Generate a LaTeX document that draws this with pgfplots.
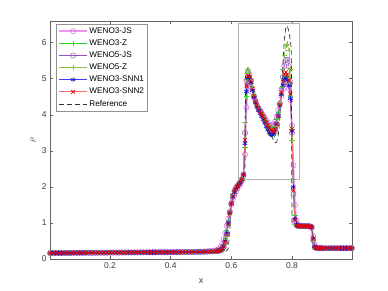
\documentclass[border=0pt]{standalone}
\usepackage{pgfplots}
\pgfplotsset{compat=1.18}
\usepackage{pgfplotstable}
\usepackage{fontspec}
\setmainfont{Liberation Sans}

\definecolor{cAjs}{RGB}{238,150,238}
\definecolor{cAjsm}{RGB}{205,100,230}
\definecolor{cAz}{RGB}{40,215,40}
\definecolor{cBjs}{RGB}{150,80,190}
\definecolor{cBz}{RGB}{130,195,70}
\definecolor{cS1}{RGB}{60,60,255}
\definecolor{cS1m}{RGB}{20,20,210}
\definecolor{cS2}{RGB}{255,110,110}
\definecolor{cS2m}{RGB}{235,0,0}
\definecolor{cRef}{RGB}{50,50,50}
\definecolor{cAx}{RGB}{100,100,100}
\definecolor{cTk}{RGB}{60,60,60}

% columns: x, WENO3-JS, WENO3-Z, WENO5-JS, WENO5-Z, WENO3-SNN1, WENO3-SNN2
\pgfplotstableread{
x a b c d e f
0.0025 0.165 0.165 0.165 0.165 0.165 0.165
0.01 0.166 0.166 0.166 0.166 0.166 0.166
0.02 0.166 0.166 0.166 0.166 0.166 0.166
0.03 0.167 0.167 0.167 0.167 0.167 0.167
0.04 0.167 0.167 0.167 0.167 0.167 0.167
0.05 0.168 0.168 0.168 0.168 0.168 0.168
0.06 0.169 0.169 0.169 0.169 0.169 0.169
0.07 0.169 0.169 0.169 0.169 0.169 0.169
0.08 0.170 0.170 0.170 0.170 0.170 0.170
0.09 0.170 0.170 0.170 0.170 0.170 0.170
0.10 0.171 0.171 0.171 0.171 0.171 0.171
0.11 0.172 0.172 0.172 0.172 0.172 0.172
0.12 0.172 0.172 0.172 0.172 0.172 0.172
0.13 0.173 0.173 0.173 0.173 0.173 0.173
0.14 0.173 0.173 0.173 0.173 0.173 0.173
0.15 0.174 0.174 0.174 0.174 0.174 0.174
0.16 0.175 0.175 0.175 0.175 0.175 0.175
0.17 0.175 0.175 0.175 0.175 0.175 0.175
0.18 0.176 0.176 0.176 0.176 0.176 0.176
0.19 0.176 0.176 0.176 0.176 0.176 0.176
0.20 0.177 0.177 0.177 0.177 0.177 0.177
0.21 0.178 0.178 0.178 0.178 0.178 0.178
0.22 0.178 0.178 0.178 0.178 0.178 0.178
0.23 0.179 0.179 0.179 0.179 0.179 0.179
0.24 0.179 0.179 0.179 0.179 0.179 0.179
0.25 0.180 0.180 0.180 0.180 0.180 0.180
0.26 0.181 0.181 0.181 0.181 0.181 0.181
0.27 0.181 0.181 0.181 0.181 0.181 0.181
0.28 0.182 0.182 0.182 0.182 0.182 0.182
0.29 0.182 0.182 0.182 0.182 0.182 0.182
0.30 0.183 0.183 0.183 0.183 0.183 0.183
0.31 0.184 0.184 0.184 0.184 0.184 0.184
0.32 0.184 0.184 0.184 0.184 0.184 0.184
0.33 0.185 0.185 0.185 0.185 0.185 0.185
0.34 0.185 0.185 0.185 0.185 0.185 0.185
0.35 0.186 0.186 0.186 0.186 0.186 0.186
0.36 0.187 0.187 0.187 0.187 0.187 0.187
0.37 0.187 0.187 0.187 0.187 0.187 0.187
0.38 0.188 0.188 0.188 0.188 0.188 0.188
0.39 0.188 0.188 0.188 0.188 0.188 0.188
0.40 0.189 0.189 0.189 0.189 0.189 0.189
0.41 0.190 0.190 0.190 0.190 0.190 0.190
0.42 0.190 0.190 0.190 0.190 0.190 0.190
0.43 0.191 0.191 0.191 0.191 0.191 0.191
0.44 0.192 0.192 0.192 0.192 0.192 0.192
0.45 0.193 0.193 0.193 0.193 0.193 0.193
0.46 0.194 0.194 0.194 0.194 0.194 0.194
0.47 0.195 0.195 0.195 0.195 0.195 0.195
0.48 0.198 0.196 0.196 0.196 0.196 0.196
0.49 0.201 0.198 0.197 0.197 0.197 0.197
0.50 0.205 0.199 0.198 0.198 0.198 0.198
0.51 0.210 0.202 0.200 0.200 0.200 0.200
0.52 0.216 0.205 0.202 0.202 0.202 0.202
0.53 0.224 0.209 0.205 0.204 0.205 0.205
0.54 0.232 0.214 0.208 0.206 0.209 0.208
0.550 0.242 0.220 0.212 0.209 0.213 0.212
0.555 0.258 0.230 0.218 0.213 0.220 0.218
0.560 0.285 0.248 0.228 0.220 0.232 0.228
0.565 0.335 0.280 0.243 0.230 0.252 0.248
0.570 0.420 0.330 0.270 0.250 0.290 0.280
0.575 0.550 0.420 0.330 0.300 0.360 0.340
0.580 0.720 0.570 0.450 0.400 0.500 0.470
0.585 0.920 0.800 0.680 0.620 0.720 0.680
0.590 1.120 1.050 0.980 0.950 1.000 0.970
0.595 1.320 1.300 1.280 1.270 1.280 1.270
0.600 1.500 1.520 1.550 1.570 1.530 1.540
0.605 1.650 1.700 1.760 1.790 1.720 1.740
0.610 1.770 1.830 1.890 1.920 1.850 1.870
0.615 1.870 1.930 1.970 1.990 1.940 1.950
0.620 1.950 2.000 2.030 2.040 2.010 2.020
0.625 2.020 2.060 2.080 2.090 2.070 2.080
0.630 2.090 2.120 2.140 2.150 2.130 2.140
0.635 2.170 2.190 2.210 2.220 2.200 2.210
0.640 2.300 2.320 2.350 2.380 2.330 2.340
0.645 2.900 3.100 3.500 3.800 3.200 3.300
0.650 4.200 4.500 4.950 5.150 4.650 4.800
0.655 4.780 4.980 5.180 5.260 5.020 5.080
0.660 4.850 5.000 5.100 5.150 5.040 5.060
0.665 4.780 4.880 4.950 4.980 4.900 4.930
0.670 4.620 4.680 4.720 4.750 4.680 4.720
0.675 4.480 4.500 4.520 4.550 4.480 4.520
0.680 4.360 4.360 4.370 4.380 4.330 4.370
0.685 4.260 4.250 4.250 4.260 4.210 4.260
0.690 4.180 4.170 4.160 4.160 4.120 4.170
0.695 4.110 4.100 4.090 4.080 4.040 4.100
0.700 4.050 4.030 4.010 4.000 3.960 4.030
0.705 3.980 3.960 3.930 3.910 3.870 3.950
0.710 3.910 3.880 3.840 3.820 3.770 3.870
0.715 3.840 3.800 3.750 3.720 3.670 3.790
0.720 3.780 3.730 3.660 3.620 3.580 3.710
0.725 3.730 3.670 3.580 3.530 3.500 3.640
0.730 3.700 3.630 3.520 3.460 3.450 3.580
0.735 3.700 3.620 3.490 3.420 3.440 3.540
0.740 3.740 3.650 3.500 3.420 3.480 3.540
0.745 3.820 3.730 3.580 3.500 3.580 3.600
0.750 3.950 3.870 3.740 3.670 3.740 3.740
0.755 4.120 4.060 3.980 3.940 3.970 3.960
0.760 4.320 4.300 4.300 4.300 4.250 4.280
0.765 4.520 4.560 4.680 4.750 4.560 4.620
0.770 4.700 4.800 5.050 5.250 4.820 4.920
0.775 4.840 4.980 5.350 5.650 4.980 5.120
0.780 4.900 5.060 5.520 5.920 5.020 5.180
0.785 4.860 5.030 5.530 5.960 4.960 5.110
0.790 4.720 4.880 5.350 5.780 4.800 4.950
0.795 4.400 4.500 4.900 5.250 4.450 4.580
0.800 3.700 3.600 3.500 3.300 3.550 3.600
0.805 2.600 2.200 1.800 1.500 2.000 1.900
0.810 1.500 1.220 1.030 0.970 1.120 1.080
0.815 1.070 0.970 0.930 0.920 0.950 0.940
0.820 0.950 0.925 0.915 0.912 0.920 0.918
0.825 0.925 0.915 0.912 0.910 0.913 0.912
0.830 0.915 0.912 0.910 0.910 0.911 0.910
0.835 0.912 0.910 0.910 0.910 0.910 0.910
0.840 0.910 0.910 0.910 0.910 0.910 0.910
0.845 0.910 0.910 0.910 0.910 0.910 0.910
0.850 0.908 0.910 0.910 0.910 0.910 0.910
0.855 0.905 0.908 0.910 0.910 0.909 0.909
0.860 0.895 0.902 0.907 0.909 0.904 0.905
0.865 0.860 0.875 0.890 0.900 0.880 0.885
0.870 0.640 0.580 0.520 0.480 0.580 0.560
0.875 0.400 0.350 0.320 0.310 0.350 0.340
0.880 0.320 0.310 0.302 0.300 0.308 0.306
0.885 0.305 0.302 0.300 0.300 0.301 0.301
0.890 0.300 0.300 0.300 0.300 0.300 0.300
0.895 0.300 0.300 0.300 0.300 0.300 0.300
0.90 0.300 0.300 0.300 0.300 0.300 0.300
0.91 0.300 0.300 0.300 0.300 0.300 0.300
0.92 0.300 0.300 0.300 0.300 0.300 0.300
0.93 0.300 0.300 0.300 0.300 0.300 0.300
0.94 0.300 0.300 0.300 0.300 0.300 0.300
0.95 0.300 0.300 0.300 0.300 0.300 0.300
0.96 0.300 0.300 0.300 0.300 0.300 0.300
0.97 0.300 0.300 0.300 0.300 0.300 0.300
0.98 0.300 0.300 0.300 0.300 0.300 0.300
0.99 0.300 0.300 0.300 0.300 0.300 0.300
0.9975 0.300 0.300 0.300 0.300 0.300 0.300
}\num

\pgfplotstableread{
x r
0.0 0.165
0.10 0.170
0.20 0.175
0.30 0.180
0.40 0.187
0.50 0.195
0.55 0.200
0.575 0.210
0.585 0.230
0.590 0.300
0.595 0.800
0.600 1.500
0.605 1.800
0.610 1.900
0.620 2.000
0.630 2.100
0.640 2.250
0.645 2.400
0.647 5.100
0.655 5.350
0.660 5.150
0.670 4.750
0.680 4.400
0.690 4.180
0.700 4.020
0.710 3.850
0.720 3.650
0.730 3.450
0.740 3.280
0.745 3.220
0.750 3.250
0.755 3.450
0.760 3.900
0.765 4.600
0.770 5.400
0.775 6.100
0.780 6.450
0.785 6.450
0.790 6.300
0.795 6.050
0.798 5.800
0.800 0.950
0.866 0.920
0.868 0.300
1.000 0.300
}\refdata

\begin{document}
\begin{tikzpicture}[x=1bp,y=1bp]
\useasboundingbox (0,0) rectangle (388,291);
\begin{axis}[
  at={(50bp,32bp)}, anchor=south west,
  scale only axis, width=302bp, height=238bp,
  xmin=0.002, xmax=0.998, ymin=0, ymax=6.6,
  xtick={0.2,0.4,0.6,0.8}, ytick={0,1,2,3,4,5,6},
  xticklabels={0.2,0.4,0.6,0.8},
  tick align=inside, major tick length=3bp,
  axis line style={cAx, line width=0.6pt},
  every tick/.style={cAx, line width=0.5pt},
  tick label style={font=\fontsize{8.5bp}{10bp}\selectfont, text=cTk},
  /pgf/number format/assume math mode=true,
  xlabel={x}, ylabel={$\rho$},
  label style={font=\fontsize{9bp}{10bp}\selectfont, text=cTk},
  xlabel style={at={(axis description cs:0.5,-0.092)}, anchor=center},
  ylabel style={at={(axis description cs:-0.056,0.5)}, anchor=center, rotate=0},
  clip=true,
  legend cell align=left,
  legend style={at={(0.02,0.988)}, anchor=north west, draw=cAx!70, line width=0.5pt,
    font=\fontsize{8.2bp}{9bp}\selectfont, inner sep=2bp, row sep=1.9bp,
    nodes={inner sep=1.5bp}},
  legend image code/.code={\draw[mark repeat=2,mark phase=2] plot coordinates {(0bp,0bp)(14bp,0bp)(28bp,0bp)};},
  mark size=2.6bp,
]
\addplot[color=black!30, line width=0.8pt, forget plot] coordinates {(0.624,2.21)(0.824,2.21)(0.824,6.53)(0.624,6.53)(0.624,2.21)};
\addplot[color=cAjs, line width=1.6pt, mark=o, mark options={draw=cAjsm, line width=0.5pt, solid}] table[x=x,y=a] {\num};
\addlegendentry{WENO3-JS}
\addplot[color=cAz, line width=0.5pt, mark=+, mark options={line width=0.5pt, solid}] table[x=x,y=b] {\num};
\addlegendentry{WENO3-Z}
\addplot[color=cBjs, line width=0.6pt, mark=o, mark options={line width=0.5pt, solid}] table[x=x,y=c] {\num};
\addlegendentry{WENO5-JS}
\addplot[color=cBz, line width=0.5pt, mark=+, mark options={line width=0.5pt, solid}] table[x=x,y=d] {\num};
\addlegendentry{WENO5-Z}
\addplot[color=cS1, line width=0.8pt, mark=asterisk, mark options={draw=cS1m, line width=0.6pt, solid}] table[x=x,y=e] {\num};
\addlegendentry{WENO3-SNN1}
\addplot[color=cS2, line width=0.9pt, mark=x, mark options={draw=cS2m, line width=0.7pt, solid}] table[x=x,y=f] {\num};
\addlegendentry{WENO3-SNN2}
\addplot[color=cRef, line width=0.7pt, dash pattern=on 5bp off 3bp] table[x=x,y=r] {\refdata};
\addlegendentry{Reference}
\end{axis}
\end{tikzpicture}
\end{document}
